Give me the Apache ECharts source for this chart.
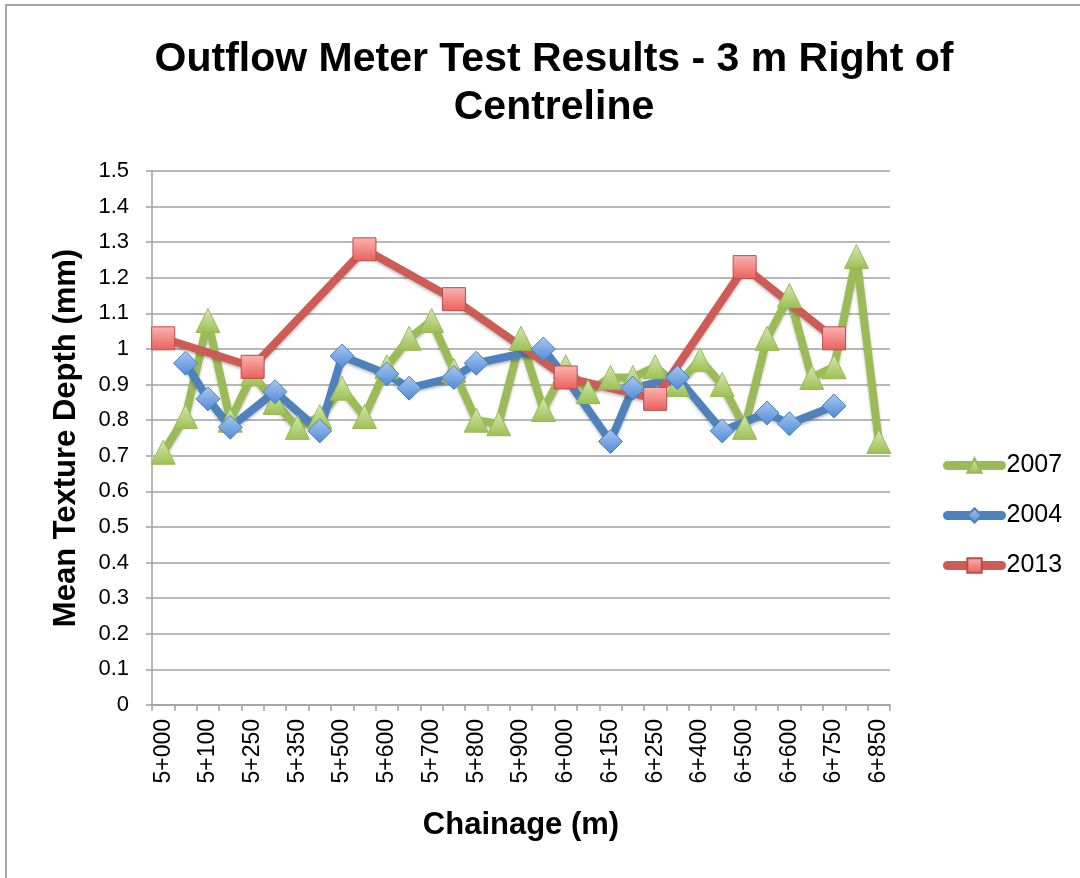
<!DOCTYPE html>
<html>
<head>
<meta charset="utf-8">
<script src="https://cdn.jsdelivr.net/npm/echarts@6/dist/echarts.min.js"></script>
<style>
  html, body { margin: 0; padding: 0; background: #fff; }
  #frame {
    position: absolute; left: 5px; top: 4px; width: 1080px; height: 880px;
    border-left: 2px solid #a6a6a6; border-top: 2px solid #a6a6a6;
  }
  #main { position: absolute; left: 0; top: 0; width: 1080px; height: 878px; }
</style>
</head>
<body>
<div id="frame"></div>
<div id="main"></div>
<script>
// chainage categories (every second one is labelled on the axis)
const chainage = [
  '5+000', '5+050', '5+100', '5+200', '5+250', '5+300', '5+350', '5+450',
  '5+500', '5+550', '5+600', '5+650', '5+700', '5+750', '5+800', '5+850',
  '5+900', '5+950', '6+000', '6+100', '6+150', '6+200', '6+250', '6+350',
  '6+400', '6+450', '6+500', '6+550', '6+600', '6+700', '6+750', '6+800',
  '6+850'
]
const yTicks = [0, 0.1, 0.2, 0.3, 0.4, 0.5, 0.6, 0.7, 0.8, 0.9, 1, 1.1, 1.2, 1.3, 1.4, 1.5]

// mean texture depth (mm)
const data2007 = [
  0.71, 0.81, 1.08, 0.80, 0.93, 0.85, 0.78, 0.81, 0.89, 0.81, 0.95,
  1.03, 1.08, 0.94, 0.80, 0.79, 1.03, 0.83, 0.95, 0.88, 0.92, 0.92,
  0.95, 0.90, 0.97, 0.90, 0.78, 1.03, 1.15, 0.92, 0.95, 1.26, 0.74
]
const data2004 = [
  null, 0.96, 0.86, 0.78, null, 0.88, null, 0.77, 0.98, null, 0.93,
  0.89, null, 0.92, 0.96, null, null, 1.00, 0.92, null, 0.74, 0.89,
  null, 0.92, null, 0.77, null, 0.82, 0.79, null, 0.84, null, null
]
const data2013 = [
  1.03, null, null, null, 0.95, null, null, null, null, 1.28, null,
  null, null, 1.14, null, null, null, null, 0.92, null, null, null,
  0.86, null, null, null, 1.23, null, null, null, 1.03, null, null
]

const font = 'Liberation Sans, Arial, sans-serif'

function grad(top, bottom) {
  return new echarts.graphic.LinearGradient(0, 0, 0, 1, [
    { offset: 0, color: top },
    { offset: 1, color: bottom }
  ])
}

function makeSeries(name, data, symbol, size, lineColor, fillTop, fillBottom, border) {
  return {
    name: name,
    type: 'line',
    data: data,
    connectNulls: true,
    symbol: symbol,
    symbolSize: size,
    showAllSymbol: true,
    lineStyle: {
      color: lineColor,
      width: 8,
      shadowColor: 'rgba(0,0,0,0.25)',
      shadowBlur: 3,
      shadowOffsetY: 2
    },
    itemStyle: {
      color: grad(fillTop, fillBottom),
      borderColor: border,
      borderWidth: 1
    },
    emphasis: { disabled: true },
    animation: false
  }
}

const myChart = echarts.init(document.getElementById('main'), null, { renderer: 'canvas' })
const option = {
  backgroundColor: 'transparent',
  title: {
    text: 'Outflow Meter Test Results - 3 m Right of\nCentreline',
    left: 549,
    top: 31,
    textAlign: 'center',
    textStyle: {
      fontFamily: font,
      fontSize: 41,
      fontWeight: 'bold',
      color: '#000',
      lineHeight: 48
    }
  },
  legend: {
    orient: 'vertical',
    left: 938,
    top: 448,
    itemWidth: 54,
    itemHeight: 18,
    itemGap: 25,
    data: ['2007', '2004', '2013'],
    lineStyle: { width: 9, cap: 'round' },
    textStyle: { fontFamily: font, fontSize: 25, color: '#000' }
  },
  grid: {
    left: 152,
    right: 190,
    top: 171,
    bottom: 173
  },
  xAxis: {
    type: 'category',
    data: chainage,
    boundaryGap: true,
    name: 'Chainage (m)',
    nameLocation: 'middle',
    nameGap: 105,
    nameTextStyle: { fontFamily: font, fontSize: 31, fontWeight: 'bold', color: '#000' },
    axisLine: { lineStyle: { color: '#a0a0a0', width: 1.5 } },
    axisTick: { show: true, interval: 0, length: 6, lineStyle: { color: '#a0a0a0', width: 1.5 } },
    axisLabel: {
      interval: 1,
      rotate: 90,
      margin: 14,
      fontFamily: font,
      fontSize: 23,
      color: '#000'
    },
    splitLine: { show: false }
  },
  yAxis: {
    type: 'value',
    min: 0,
    max: 1.5,
    interval: 0.1,
    name: 'Mean Texture Depth (mm)',
    nameLocation: 'middle',
    nameGap: 70,
    nameRotate: 90,
    nameTextStyle: { fontFamily: font, fontSize: 31, fontWeight: 'bold', color: '#000' },
    axisLine: { show: true, lineStyle: { color: '#a0a0a0', width: 1.5 } },
    axisTick: { show: true, length: 6, lineStyle: { color: '#a0a0a0', width: 1.5 } },
    axisLabel: {
      margin: 23,
      fontFamily: font,
      fontSize: 22,
      color: '#000',
      formatter: v => {
        const t = yTicks.find(x => Math.abs(x - v) < 1e-6)
        return t === undefined ? '' : String(t)
      }
    },
    splitLine: { lineStyle: { color: '#a0a0a0', width: 1.5 } }
  },
  series: [
    makeSeries('2007', data2007, 'triangle', 24, '#9bbb59', '#d7e8b4', '#9bc052', '#98b954'),
    makeSeries('2004', data2004, 'diamond', 24, '#4f81bd', '#a9c8f0', '#4f8ad6', '#4a7ebb'),
    makeSeries('2013', data2013, 'rect', 23, '#cd5c57', '#fbb4b2', '#e9605c', '#be4b48')
  ]
}
option && myChart.setOption(option)
</script>
</body>
</html>
